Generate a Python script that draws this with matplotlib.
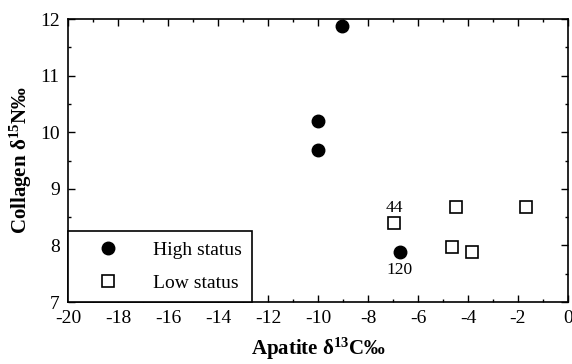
import matplotlib
matplotlib.use("Agg")
import matplotlib.pyplot as plt
from matplotlib.ticker import MultipleLocator

plt.rcParams['font.family'] = ['Liberation Serif', 'DejaVu Serif']
plt.rcParams['mathtext.fontset'] = 'custom'
plt.rcParams['mathtext.rm'] = 'Liberation Serif'
plt.rcParams['mathtext.bf'] = 'Liberation Serif:bold'
plt.rcParams['axes.unicode_minus'] = False

# --- datos ---
alto_x = [-9.04, -10.0, -10.0, -6.72]
alto_y = [11.88, 10.2, 9.68, 7.88]
bajo_x = [-6.95, -4.5, -1.7, -4.64, -3.84]
bajo_y = [8.39, 8.68, 8.68, 7.98, 7.88]
etiquetas = ["44", "120"]
etiq_x = [-6.95, -6.72]
etiq_y = [8.66, 7.56]

fig = plt.figure(figsize=(5.72, 3.64), dpi=100)
ax = fig.add_axes([68/572, 1 - 302/364, 500/572, 283/364])

ax.plot(alto_x, alto_y, 'o', color='black', ms=9, ls='none', label='High status')
ax.plot(bajo_x, bajo_y, 's', mfc='white', mec='black', mew=1.2, ms=9, ls='none',
        label='Low status')

for t, x, y in zip(etiquetas, etiq_x, etiq_y):
    ax.text(x, y, t, ha='center', va='center', fontsize=12.5)

ax.set_xlim(-20, 0)
ax.set_ylim(7, 12)
ax.xaxis.set_major_locator(MultipleLocator(2))
ax.xaxis.set_minor_locator(MultipleLocator(1))
ax.yaxis.set_major_locator(MultipleLocator(1))
ax.yaxis.set_minor_locator(MultipleLocator(0.5))
ax.tick_params(which='both', direction='in', top=True, right=True, labelsize=14, width=1)
ax.tick_params(which='major', length=5, pad=6)
ax.tick_params(which='minor', length=2.5)
for s in ax.spines.values():
    s.set_linewidth(1.2)

ax.set_xlabel(r'Apatite $\mathbf{\delta^{13}}$C‰', fontsize=15, fontweight='bold', labelpad=6)
ax.set_ylabel(r'Collagen $\mathbf{\delta^{15}}$N‰', fontsize=15, fontweight='bold', labelpad=4)

leg = ax.legend(loc='lower left', bbox_to_anchor=(0, 0), borderaxespad=0,
                fontsize=14, frameon=True, fancybox=False, edgecolor='black',
                borderpad=0.53, labelspacing=0.8, handlelength=3.06, handletextpad=0.79)
leg.get_frame().set_linewidth(1.2)
leg.get_frame().set_alpha(1)

plt.savefig("out.png", dpi=100)
